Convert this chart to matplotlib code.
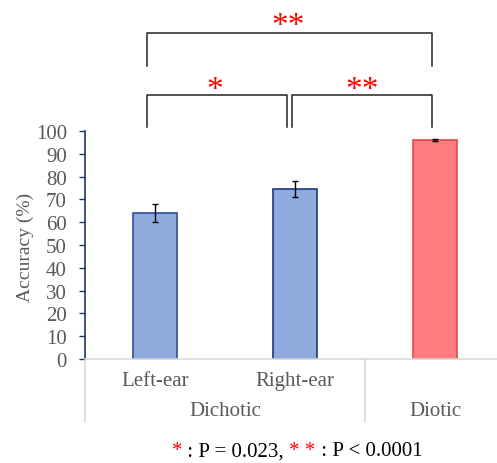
import matplotlib
matplotlib.use("Agg")
import matplotlib.pyplot as plt
from matplotlib.offsetbox import TextArea, HPacker, AnnotationBbox

plt.rcParams['font.family'] = ['Liberation Serif', 'DejaVu Serif']

# data
conditions = ['Left-ear', 'Right-ear', 'Diotic']
groups = ['Dichotic', 'Diotic']
accuracy = [64.0, 74.5, 96.0]
errors = [4.0, 3.5, 0.6]
bar_colors = ['#8FAADC', '#8FAADC', '#FF7C80']
edge_colors = ['#2F4F8F', '#1F3A7A', '#E04B4B']
yticks = list(range(0, 101, 10))

fig = plt.figure(figsize=(4.97, 4.64), dpi=100)
ax = fig.add_axes([85 / 497, 104 / 464, 412 / 497, 228 / 464])

x = list(range(len(conditions)))
ax.bar(x, accuracy, width=0.32, color=bar_colors, edgecolor=edge_colors, linewidth=1.2)
ax.errorbar(x, accuracy, yerr=errors, fmt='none', ecolor='black', elinewidth=1.0,
            capsize=2.5, capthick=1.0)

ax.set_xlim(-0.5, 2.443)
ax.set_ylim(0, 100)
ax.set_yticks(yticks)
ax.set_xticks([])
ax.tick_params(axis='y', direction='out', length=4, width=1.0, color='#1F3864',
               labelcolor='#595959', labelsize=15, pad=9)
for s in ['top', 'right']:
    ax.spines[s].set_visible(False)
ax.spines['left'].set_color('#1F3864')
ax.spines['left'].set_linewidth(1.2)
ax.spines['bottom'].set_color('#D9D9D9')
ax.spines['bottom'].set_linewidth(1.2)

fig.text(25 / 497, 1 - 247 / 464, 'Accuracy (%)', rotation=90, ha='center', va='center',
         fontsize=14, color='#595959')

# category axis (two levels)
grey = '#595959'
for xi, name in zip(x[:2], conditions[:2]):
    ax.text(xi, -9.6, name, ha='center', va='center', fontsize=15, color=grey, clip_on=False)
ax.text(0.5, -22.8, groups[0], ha='center', va='center', fontsize=15, color=grey, clip_on=False)
ax.text(2.0, -22.8, groups[1], ha='center', va='center', fontsize=15, color=grey, clip_on=False)
for xd in [-0.5, 1.5]:
    ax.plot([xd, xd], [0, -27.6], color='#D9D9D9', lw=1.2, clip_on=False)

# significance brackets
bk = '#222222'
def bracket(x0, x1, ytop, ybot):
    ax.plot([x0, x0, x1, x1], [ybot, ytop, ytop, ybot], color=bk, lw=1.1, clip_on=False)

bracket(-0.057, 1.98, 143.0, 128.5)
bracket(-0.057, 0.943, 115.8, 101.8)
bracket(0.979, 1.98, 115.8, 101.8)

star_kw = dict(ha='center', va='center', fontsize=24, color='red', clip_on=False)
ax.text(0.95, 146.0, '**', **star_kw)
ax.text(0.43, 118.0, '*', **star_kw)
ax.text(1.48, 118.0, '**', **star_kw)

# footnote with coloured asterisks
parts = [('*', 'red'), (' : P = 0.023, ', 'black'), ('* *', 'red'), (' : P < 0.0001', 'black')]
boxes = [TextArea(t, textprops=dict(color=c, fontsize=15)) for t, c in parts]
pack = HPacker(children=boxes, pad=0, sep=0, align='baseline')
ab = AnnotationBbox(pack, (297 / 497, 1 - 452 / 464), xycoords='figure fraction',
                    frameon=False, box_alignment=(0.5, 0.5))
fig.add_artist(ab)

fig.savefig('out.png', dpi=100)
